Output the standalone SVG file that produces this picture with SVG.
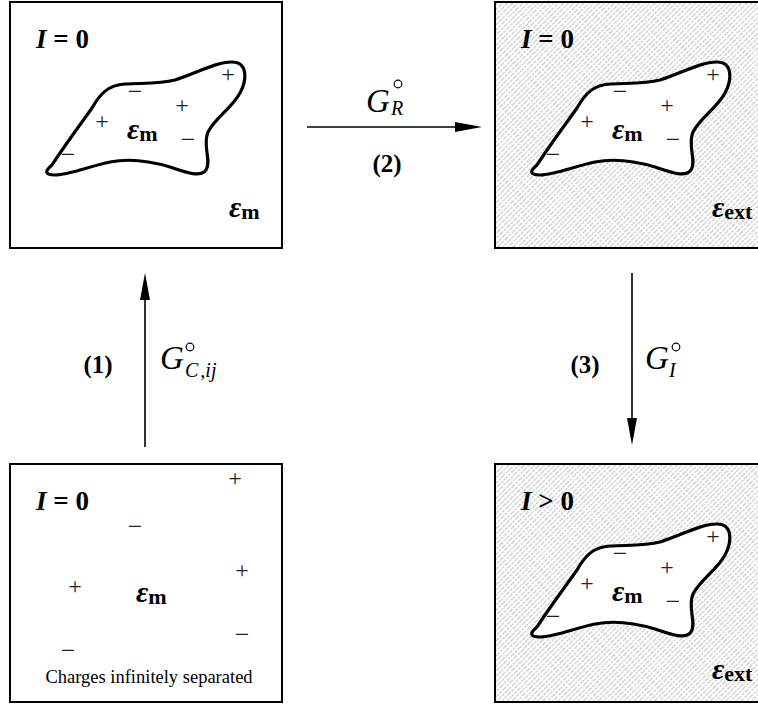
<svg xmlns="http://www.w3.org/2000/svg" xmlns:xlink="http://www.w3.org/1999/xlink" width="758" height="715" viewBox="0 0 758 715">
<style>
.box{fill:#fff;stroke:#000;stroke-width:2}
.hbox{fill:url(#hatch);stroke:#000;stroke-width:2}
.blob{fill:#fff;stroke:#000;stroke-width:3.2;stroke-linejoin:round}
.sg{font-family:"Liberation Serif",serif;font-size:24px;text-anchor:middle;fill:#222}
.mn{font-family:"Liberation Serif",serif;font-size:26px;text-anchor:middle;fill:#222}
.eps{font-family:"Liberation Serif",serif;font-weight:bold;font-style:italic;font-size:30px}
.sub{font-family:"Liberation Serif",serif;font-weight:bold;font-size:22px}
.ttl{font-family:"Liberation Serif",serif;font-weight:bold;font-size:27px}
.it{font-style:italic}
.G{font-family:"Liberation Serif",serif;font-style:italic;font-size:33px}
.gs{font-family:"Liberation Serif",serif;font-style:italic;font-size:20px}
.num{font-family:"Liberation Serif",serif;font-weight:bold;font-size:25px;text-anchor:middle}
.cap{font-family:"Liberation Serif",serif;font-size:18.5px;text-anchor:middle}
.ln{stroke:#000;stroke-width:1.6;fill:none}
.deg{fill:none;stroke:#000;stroke-width:1.2}
</style>
<defs>
<pattern id="hatch" width="3.6" height="10" patternUnits="userSpaceOnUse" patternTransform="rotate(45)">
<line x1="1" y1="0" x2="1" y2="10" stroke="#8c8c8c" stroke-width="0.6" stroke-dasharray="3 1"/>
</pattern>
<g id="blob">
<path class="blob" d="M52,165 C65,145 80,125 92,108 C100,94 108,85 125,84 C145,83 160,84 175,80 C195,74 215,62 232,62 C248,62 247,80 240,93 C232,108 215,118 208,132 C202,146 212,160 206,170 C200,178 185,172 170,167 C150,161 130,158 110,162 C90,166 70,175 55,175 C44,175 45,171 52,165 Z"/>
<text class="sg" x="228" y="82">+</text>
<text class="mn" x="135" y="100">−</text>
<text class="sg" x="182" y="113">+</text>
<text class="sg" x="102" y="129">+</text>
<text class="mn" x="188" y="148">−</text>
<text class="mn" x="68" y="163">−</text>
<text x="127" y="139"><tspan class="eps">ε</tspan><tspan class="sub" dy="2">m</tspan></text>
</g>
</defs>

<g id="node-top-left">
<rect class="box" x="10" y="2" width="272" height="246"/>
<text class="ttl" x="36" y="48"><tspan class="it">I</tspan> = 0</text>
<use xlink:href="#blob"/>
<text x="229" y="217"><tspan class="eps">ε</tspan><tspan class="sub" dy="2">m</tspan></text>
</g>

<g id="node-top-right">
<rect class="hbox" x="495" y="2" width="272" height="246"/>
<text class="ttl" x="521" y="48"><tspan class="it">I</tspan> = 0</text>
<use xlink:href="#blob" transform="translate(485,0)"/>
<text x="712" y="217"><tspan class="eps">ε</tspan><tspan class="sub" dy="2">ext</tspan></text>
</g>

<g id="node-bottom-left">
<rect class="box" x="10" y="464" width="272" height="238"/>
<text class="ttl" x="36" y="510"><tspan class="it">I</tspan> = 0</text>
<text class="sg" x="235" y="486">+</text>
<text class="mn" x="135" y="535">−</text>
<text class="sg" x="242" y="578">+</text>
<text class="sg" x="75" y="594">+</text>
<text class="mn" x="242" y="643">−</text>
<text class="mn" x="68" y="659">−</text>
<text x="136" y="602"><tspan class="eps">ε</tspan><tspan class="sub" dy="2">m</tspan></text>
<text class="cap" x="149" y="683">Charges infinitely separated</text>
</g>

<g id="node-bottom-right">
<rect class="hbox" x="495" y="464" width="272" height="238"/>
<text class="ttl" x="521" y="510"><tspan class="it">I</tspan> &gt; 0</text>
<use xlink:href="#blob" transform="translate(485,462)"/>
<text x="712" y="679"><tspan class="eps">ε</tspan><tspan class="sub" dy="2">ext</tspan></text>
</g>

<g id="connectors">
<line class="ln" x1="307" y1="127" x2="458" y2="127"/>
<polygon points="482,127 455,122 455,132"/>
<line class="ln" x1="145" y1="447" x2="145" y2="297"/>
<polygon points="145,273 140,300 150,300"/>
<line class="ln" x1="632" y1="273" x2="632" y2="422"/>
<polygon points="632,445 627,418 637,418"/>
</g>

<g id="labels">
<text class="G" x="366" y="112">G</text>
<text class="gs" x="391" y="115">R</text>
<circle class="deg" cx="398" cy="84" r="3.8"/>
<text class="num" x="387" y="172">(2)</text>

<text class="num" x="98" y="373">(1)</text>
<text class="G" x="160" y="369">G</text>
<text class="gs" x="185" y="377">C<tspan dx="2">,ij</tspan></text>
<circle class="deg" cx="190" cy="347" r="3.8"/>

<text class="num" x="585" y="373">(3)</text>
<text class="G" x="645" y="369">G</text>
<text class="gs" x="669" y="377">I</text>
<circle class="deg" cx="676" cy="347" r="3.8"/>
</g>
</svg>
